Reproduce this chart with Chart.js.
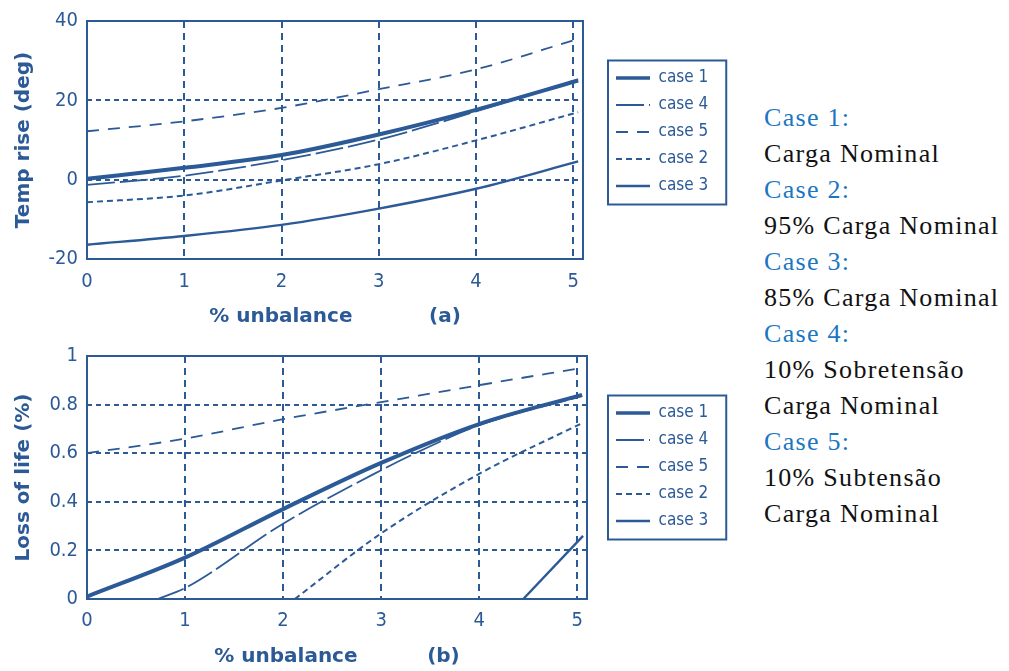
<!DOCTYPE html>
<html>
<head>
<meta charset="utf-8">
<script src="https://cdn.jsdelivr.net/npm/chart.js@4"></script>
<style>
  body { margin: 0; background: #fff; width: 1009px; height: 671px; overflow: hidden; position: relative; }
  #chartA { position: absolute; left: 0; top: 0; }
  #chartB { position: absolute; left: 0; top: 335px; }
  #notes { position: absolute; left: 764px; top: 100px; font: 26px "Liberation Serif", serif; letter-spacing: 1.3px; line-height: 36px; color: #111; white-space: nowrap; }
  #notes .c { color: #1a76c2; }
</style>
</head>
<body>
<canvas id="chartA" width="750" height="335"></canvas>
<canvas id="chartB" width="750" height="336"></canvas>
<div id="notes">
  <div class="c">Case 1:</div>
  <div>Carga Nominal</div>
  <div class="c">Case 2:</div>
  <div>95% Carga Nominal</div>
  <div class="c">Case 3:</div>
  <div>85% Carga Nominal</div>
  <div class="c">Case 4:</div>
  <div>10% Sobretensão</div>
  <div>Carga Nominal</div>
  <div class="c">Case 5:</div>
  <div>10% Subtensão</div>
  <div>Carga Nominal</div>
</div>
<script>
var BLUE = '#2c5a97';
var TICK_FONT = '"Liberation Sans Narrow", "DejaVu Sans Condensed", sans-serif';
var LEG_FONT = '"DejaVu Sans Condensed", "Liberation Sans Narrow", sans-serif';
var TITLE_FONT = '"DejaVu Sans", sans-serif';

var caseNames = ['case 1', 'case 4', 'case 5', 'case 2', 'case 3'];

// (a) temperature rise vs % unbalance
var xA = [0, 1, 2, 3, 4, 5.05];
var case1A = [0.2, 3, 6.2, 11.4, 17.6, 25];
var case4A = [-1.3, 1, 4.9, 10.1, 17.2, 25.3];
var case5A = [12.2, 14.7, 18.1, 22.8, 27.8, 35.5];
var case2A = [-5.7, -4, -0.2, 3.9, 9.9, 17];
var case3A = [-16.4, -14.2, -11.4, -7.3, -2.3, 4.6];

// (b) loss of life vs % unbalance
var case1Bx = [0, 1, 2, 3, 4, 5.05];
var case1B = [0.01, 0.17, 0.37, 0.56, 0.72, 0.84];
var case4Bx = [0.72, 1, 2, 3, 3.35, 4, 5.05];
var case4B = [0, 0.045, 0.31, 0.53, 0.6, 0.715, 0.835];
var case5Bx = [0, 1, 2, 3, 4, 5.03];
var case5B = [0.6, 0.66, 0.74, 0.81, 0.88, 0.95];
var case2Bx = [2.12, 3, 4, 5.03];
var case2B = [0, 0.27, 0.515, 0.72];
var case3Bx = [4.45, 5.06];
var case3B = [0, 0.26];

var styles = [
  { borderWidth: 4, borderDash: [] },
  { borderWidth: 1.8, borderDash: [28, 5] },
  { borderWidth: 1.8, borderDash: [12, 9] },
  { borderWidth: 2, borderDash: [6, 4] },
  { borderWidth: 2.4, borderDash: [] }
];

function pts(xs, ys) {
  return ys.map(function (y, i) { return { x: xs[i], y: y }; });
}

function makeSets(series) {
  return series.map(function (s, i) {
    return {
      label: caseNames[i],
      data: s,
      borderColor: BLUE,
      backgroundColor: BLUE,
      borderWidth: styles[i].borderWidth,
      borderDash: styles[i].borderDash,
      pointRadius: 0,
      cubicInterpolationMode: 'monotone',
      fill: false
    };
  });
}

// legend swatches take dash/width from the dataset line, not the point
function legendLabels(chart) {
  var items = Chart.defaults.plugins.legend.labels.generateLabels(chart);
  items.forEach(function (it) {
    var ds = chart.data.datasets[it.datasetIndex];
    it.lineDash = ds.borderDash;
    it.lineWidth = Math.min(ds.borderWidth, 3.5);
  });
  return items;
}

var framePlugin = {
  id: 'frame',
  afterDatasetsDraw: function (chart) {
    var a = chart.chartArea, ctx = chart.ctx;
    ctx.save();
    ctx.strokeStyle = BLUE;
    ctx.lineWidth = 2;
    ctx.strokeRect(a.left, a.top, a.right - a.left, a.bottom - a.top);
    ctx.restore();
  }
};

var legendBoxPlugin = {
  id: 'legendBox',
  beforeLayout: function (chart, args, opts) {
    var lg = chart.legend;
    if (!lg || lg._fixedFit) return;
    var fit = lg.fit.bind(lg);
    lg.fit = function () { fit(); this.width = opts.width; };
    lg._fixedFit = true;
  },
  afterLayout: function (chart, args, opts) {
    var lg = chart.legend;
    lg.left = opts.left;
    lg.width = lg.right - lg.left;
    lg.top += opts.dy;
    lg.bottom += opts.dy;
  },
  afterDraw: function (chart) {
    var boxes = chart.legend.legendHitBoxes;
    if (!boxes || !boxes.length) return;
    var l = Infinity, t = Infinity, r = -Infinity, b = -Infinity;
    boxes.forEach(function (h) {
      l = Math.min(l, h.left); t = Math.min(t, h.top);
      r = Math.max(r, h.left + h.width); b = Math.max(b, h.top + h.height);
    });
    var ctx = chart.ctx;
    ctx.save();
    ctx.strokeStyle = BLUE;
    ctx.lineWidth = 2;
    ctx.strokeRect(l - 8, t - 9, r - l + 26, b - t + 19);
    ctx.restore();
  }
};

function makeChart(id, series, opt) {
  return new Chart(id, {
    type: 'line',
    data: { datasets: makeSets(series) },
    plugins: [framePlugin, legendBoxPlugin],
    options: {
      responsive: false,
      animation: false,
      layout: { padding: { top: opt.padTop, right: opt.padRight, left: 0, bottom: 0 } },
      plugins: {
        legend: {
          position: 'right',
          labels: {
            color: BLUE,
            font: { family: LEG_FONT, size: 17 },
            usePointStyle: true,
            pointStyle: 'line',
            pointStyleWidth: 34,
            padding: 10,
            generateLabels: legendLabels
          }
        },
        legendBox: { width: 145, left: 606, dy: opt.legendDy },
        tooltip: { enabled: false }
      },
      scales: {
        x: {
          type: 'linear',
          min: 0, max: 5.1,
          afterFit: function (s) { s.height = opt.xHeight; },
          ticks: { stepSize: 1, includeBounds: false, color: BLUE, padding: opt.xTickPad,
                   font: { family: TICK_FONT, size: 20 } },
          grid: { color: BLUE, lineWidth: 2, drawTicks: false },
          border: { display: false, dash: [7, 5] },
          title: { display: true, text: opt.xTitle, color: BLUE,
                   font: { family: TITLE_FONT, size: 20, weight: 'bold' },
                   padding: { top: 0, bottom: opt.xTitlePad } }
        },
        y: {
          min: opt.yMin, max: opt.yMax,
          afterFit: function (s) { s.width = 87; },
          ticks: { stepSize: opt.yStep, color: BLUE, padding: 9,
                   font: { family: TICK_FONT, size: 20 },
                   callback: function (v) { return String(+v.toFixed(1)); } },
          grid: { color: BLUE, lineWidth: 2, drawTicks: false },
          border: { display: false, dash: [5, 4] },
          title: { display: true, text: opt.yTitle, color: BLUE,
                   font: { family: TITLE_FONT, size: 20, weight: 'bold' },
                   padding: { top: 12, bottom: 0 } }
        }
      }
    }
  });
}

makeChart('chartA',
  [pts(xA, case1A), pts(xA, case4A), pts(xA, case5A), pts(xA, case2A), pts(xA, case3A)],
  { padTop: 17, padRight: 22, xHeight: 76, xTickPad: 11, xTitlePad: 6, legendDy: -44,
    yMin: -20, yMax: 40, yStep: 20,
    xTitle: '% unbalance           (a)', yTitle: 'Temp rise (deg)' });

makeChart('chartB',
  [pts(case1Bx, case1B), pts(case4Bx, case4B), pts(case5Bx, case5B), pts(case2Bx, case2B), pts(case3Bx, case3B)],
  { padTop: 20, padRight: 18, xHeight: 72, xTickPad: 10, xTitlePad: 2, legendDy: -46,
    yMin: 0, yMax: 1, yStep: 0.2,
    xTitle: '% unbalance          (b)', yTitle: 'Loss of life (%)' });
</script>
</body>
</html>
